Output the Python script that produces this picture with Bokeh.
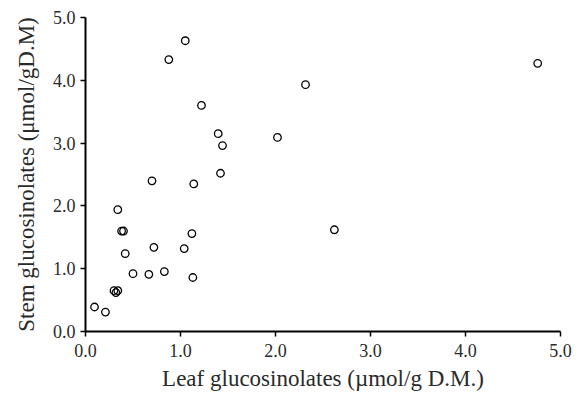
from bokeh.plotting import figure
from bokeh.models import Range1d, FixedTicker, ColumnDataSource
from bokeh.embed import file_html
from bokeh.resources import INLINE

leaf = [1.05, 0.877, 2.316, 1.221, 1.397, 1.442, 2.021, 1.421, 1.14, 0.70, 4.76,
        0.34, 0.38, 0.40, 0.418, 0.72, 1.039, 1.12, 1.13, 0.50, 0.667, 0.83,
        0.30, 0.34, 0.32, 0.095, 0.21, 2.62]
stem = [4.63, 4.33, 3.93, 3.60, 3.15, 2.96, 3.09, 2.52, 2.35, 2.40, 4.27,
        1.94, 1.60, 1.60, 1.24, 1.34, 1.32, 1.56, 0.86, 0.92, 0.91, 0.955,
        0.65, 0.65, 0.62, 0.39, 0.31, 1.62]
ticks = [0, 1, 2, 3, 4, 5]
tick_labels = {0: "0.0", 1: "1.0", 2: "2.0", 3: "3.0", 4: "4.0", 5: "5.0"}

src = ColumnDataSource(dict(x=leaf, y=stem))

p = figure(frame_width=475, frame_height=314, output_backend="svg", toolbar_location=None,
           x_range=Range1d(0, 5), y_range=Range1d(0, 5))
p.min_border_left = 85
p.min_border_right = 20
p.min_border_top = 17
p.min_border_bottom = 60
p.outline_line_color = None
p.xgrid.visible = False
p.ygrid.visible = False
p.background_fill_color = "white"
p.border_fill_color = "white"

p.scatter("x", "y", source=src, marker="circle", size=7.5, fill_color=None,
          line_color="black", line_width=1.3)

for ax in (p.xaxis[0], p.yaxis[0]):
    ax.ticker = FixedTicker(ticks=ticks)
    ax.major_label_overrides = tick_labels
    ax.minor_tick_line_color = None
    ax.axis_line_width = 2
    ax.axis_line_color = "black"
    ax.major_tick_line_color = "black"
    ax.major_tick_line_width = 1.5
    ax.major_tick_in = 0
    ax.major_tick_out = 5
    ax.major_label_text_font = "Liberation Serif"
    ax.major_label_text_font_size = "18px"
    ax.major_label_text_color = "#2a2a2a"
    ax.axis_label_text_font = "Liberation Serif"
    ax.axis_label_text_font_size = "23px"
    ax.axis_label_text_font_style = "normal"
    ax.axis_label_text_color = "#2a2a2a"

p.xaxis.axis_label = "Leaf glucosinolates (µmol/g D.M.)"
p.yaxis.axis_label = "Stem glucosinolates (μmol/gD.M)"
p.xaxis.major_label_standoff = 7
p.xaxis.axis_label_standoff = 6
p.yaxis.major_label_standoff = 5
p.yaxis.axis_label_standoff = 11

open("out.html", "w").write(file_html(p, INLINE))
